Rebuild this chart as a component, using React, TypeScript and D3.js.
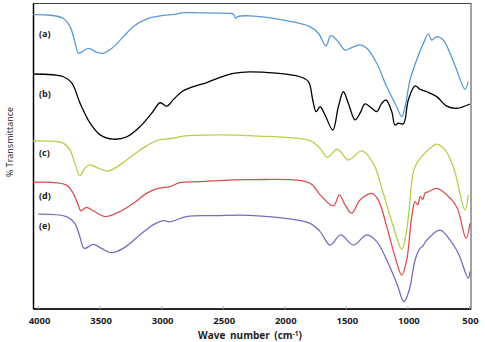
import React from "react";
import * as d3 from "d3";

// wavenumber (cm-1), transmittance (offset, arbitrary units)
const seriesA: [number, number][] = [
  [4043, 96.2], [3905, 96.0], [3800, 95.0], [3743, 92.2], [3702, 86.9], [3675, 83.6],
  [3635, 84.4], [3594, 85.2], [3526, 83.9], [3472, 83.6], [3404, 85.2], [3310, 89.0],
  [3229, 92.3], [3120, 94.8], [3012, 95.8], [2877, 96.4], [2836, 96.8], [2687, 96.8],
  [2444, 96.6], [2417, 96.4], [2400, 95.0], [2380, 95.6], [2282, 95.8], [2011, 94.4],
  [1795, 92.3], [1727, 90.1], [1665, 86.0], [1627, 89.3], [1578, 87.9], [1510, 84.6],
  [1470, 85.2], [1389, 86.3], [1334, 85.2], [1253, 80.3], [1172, 72.6], [1091, 66.1],
  [1050, 62.8], [1023, 66.1], [983, 74.8], [929, 81.4], [875, 86.8], [834, 89.9],
  [807, 87.9], [766, 89.0], [713, 87.9], [658, 83.6], [604, 78.1], [537, 71.8], [510, 74.3],
];
const seriesB: [number, number][] = [
  [4041, 76.8], [3797, 75.9], [3729, 73.8], [3662, 67.2], [3580, 60.7], [3499, 56.9],
  [3391, 55.5], [3282, 56.3], [3175, 59.6], [3080, 64.0], [3012, 67.4], [2958, 66.3],
  [2904, 68.5], [2836, 71.0], [2755, 72.5], [2633, 74.0], [2525, 75.7], [2417, 77.0],
  [2282, 77.5], [1876, 75.9], [1808, 74.3], [1773, 68.3], [1746, 64.5], [1713, 66.1],
  [1673, 63.4], [1610, 58.5], [1565, 66.1], [1524, 71.0], [1484, 67.2], [1429, 61.8],
  [1389, 64.0], [1348, 67.0], [1294, 65.6], [1253, 64.5], [1213, 67.2], [1178, 68.3],
  [1131, 64.5], [1105, 60.1], [1078, 60.7], [1037, 60.5], [997, 68.3], [942, 72.9],
  [902, 71.8], [847, 71.0], [766, 69.4], [685, 66.3], [604, 65.6], [496, 67.0],
];
const seriesC: [number, number][] = [
  [4043, 54.9], [3800, 54.2], [3745, 52.0], [3705, 47.6], [3664, 43.5], [3623, 46.0],
  [3583, 47.1], [3515, 46.0], [3434, 45.1], [3339, 47.1], [3231, 50.3], [3123, 53.3],
  [3028, 55.2], [2907, 55.8], [2825, 56.5], [2555, 56.9], [2257, 56.6], [1795, 55.0],
  [1713, 52.5], [1654, 49.6], [1573, 52.2], [1484, 48.7], [1375, 51.7], [1281, 47.6],
  [1200, 37.8], [1118, 26.9], [1050, 19.5], [1010, 25.8], [956, 44.9], [929, 47.6],
  [888, 49.8], [821, 52.5], [766, 53.9], [699, 52.0], [631, 46.5], [537, 32.4], [510, 37.3],
];
const seriesD: [number, number][] = [
  [4043, 41.4], [3773, 40.5], [3718, 37.8], [3678, 34.0], [3656, 32.1], [3610, 33.2],
  [3556, 32.1], [3461, 30.2], [3367, 31.3], [3231, 34.5], [3123, 37.8], [3028, 39.4],
  [2933, 40.0], [2852, 41.3], [2690, 41.6], [2270, 42.3], [1795, 41.1], [1713, 37.3],
  [1605, 33.7], [1557, 37.3], [1510, 34.0], [1456, 31.3], [1389, 35.6], [1294, 37.8],
  [1240, 35.6], [1172, 26.9], [1105, 17.1], [1050, 11.1], [1010, 16.0], [969, 30.2],
  [942, 35.1], [920, 34.0], [900, 36.8], [880, 35.8], [860, 38.0], [834, 38.3],
  [766, 39.4], [685, 37.3], [604, 33.4], [528, 23.1], [496, 28.0],
];
const seriesE: [number, number][] = [
  [4002, 31.0], [3773, 30.2], [3705, 28.0], [3664, 23.6], [3629, 19.8], [3556, 21.1],
  [3489, 19.8], [3407, 18.4], [3312, 19.8], [3177, 24.2], [3069, 27.5], [2988, 28.9],
  [2933, 28.5], [2799, 30.2], [2555, 30.5], [2284, 30.6], [1795, 28.0], [1713, 25.3],
  [1632, 20.9], [1545, 24.2], [1443, 20.9], [1334, 24.2], [1253, 22.0], [1172, 16.0],
  [1091, 8.4], [1032, 2.4], [989, 6.2], [942, 16.0], [902, 19.8], [880, 20.5],
  [847, 22.5], [739, 25.8], [658, 22.5], [591, 18.2], [510, 10.0], [496, 12.3],
];

const seriesLabels = ["(a)", "(b)", "(c)", "(d)", "(e)"];
const seriesList = [seriesA, seriesB, seriesC, seriesD, seriesE];
const labelValues = [90.0, 70.2, 51.0, 36.9, 27.2];
const xTicks = [4000, 3500, 3000, 2500, 2000, 1500, 1000, 500];
const xTitle = "Wave number (cm";
const yTitle = "% Transmittance";

const colors = ["#5b9bd5", "#000000", "#b4d04c", "#dc4f50", "#7f68bf"];

export default function App() {
  const W = 485, H = 342;
  const left = 33.5, right = 471, top = 3.5, bottom = 309;
  const x = d3.scaleLinear().domain([4000, 500]).range([38.5, 469.5]);
  const y = d3.scaleLinear().domain([0, 100]).range([309, 3]);
  const line = d3
    .line<[number, number]>()
    .x((d) => x(d[0]))
    .y((d) => y(d[1]))
    .curve(d3.curveCatmullRom.alpha(0.5));
  const font = "'Open Sans', 'DejaVu Sans', sans-serif";
  return (
    <div style={{ position: "absolute", left: 0, top: 0 }}>
      <svg width={W} height={H} style={{ display: "block", background: "#fff" }}>
        <rect x={left} y={top} width={right - left} height={bottom - top} fill="none" stroke="#444" strokeWidth={1} />
        <line x1={left} x2={left} y1={top} y2={bottom} stroke="#000" strokeWidth={1.5} />
        <line x1={left} x2={right} y1={bottom} y2={bottom} stroke="#000" strokeWidth={1.5} />
        {xTicks.map((t) => (
          <g key={t}>
            <line x1={x(t)} x2={x(t)} y1={bottom} y2={bottom - 3} stroke="#aaa" strokeWidth={1} />
            <text x={x(t) + 1} y={324} textAnchor="middle" fontFamily={font} fontWeight={700} fontSize={9.5} fill="#222">
              {t}
            </text>
          </g>
        ))}
        {seriesList.map((s, i) => (
          <path key={i} d={line(s) || ""} fill="none" stroke={colors[i]} strokeWidth={1.3} />
        ))}
        {seriesLabels.map((l, i) => (
          <text key={l} x={39} y={y(labelValues[i]) + 3} fontFamily={font} fontWeight={700} fontSize={9} fill="#222">
            {l}
          </text>
        ))}
        <text x={250} y={339} textAnchor="middle" fontFamily={font} fontWeight={700} fontSize={10} fill="#222" wordSpacing={2}>
          {xTitle}
          <tspan dy={-3} fontSize={6.5}>-1</tspan>
          <tspan dy={3}>)</tspan>
        </text>
        <text transform="translate(13,142) rotate(-90)" textAnchor="middle" fontFamily={font} fontSize={9} fill="#222">
          {yTitle}
        </text>
      </svg>
    </div>
  );
}
